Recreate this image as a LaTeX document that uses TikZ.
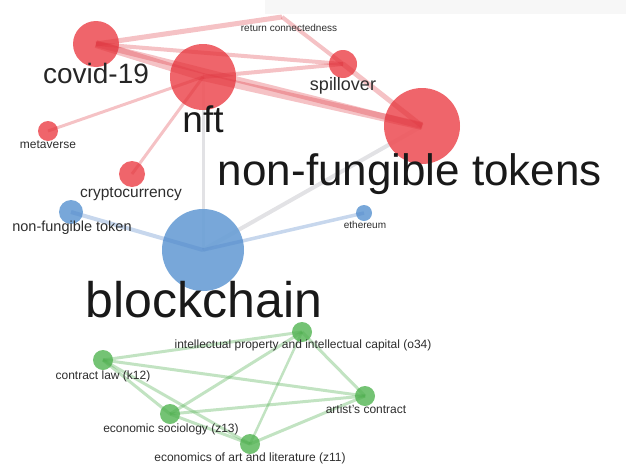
\documentclass[tikz,border=0pt]{standalone}
\usepackage{fontspec}
\setmainfont{Liberation Sans}
\definecolor{nred}{RGB}{238,88,94}
\definecolor{nblue}{RGB}{108,160,214}
\definecolor{ngreen}{RGB}{104,190,104}
\definecolor{ered}{RGB}{222,52,62}
\definecolor{eblue}{RGB}{80,132,200}
\definecolor{egreen}{RGB}{80,175,80}
\definecolor{egray}{RGB}{226,226,229}
\definecolor{txt}{RGB}{45,45,45}
\tikzset{
  dot/.style={circle,inner sep=0pt,minimum size=#1,fill opacity=0.92,draw=none},
  rdot/.style={dot=#1,fill=nred},
  bdot/.style={dot=#1,fill=nblue},
  gdot/.style={dot=#1,fill=ngreen},
  lab/.style={anchor=base,inner sep=0pt,text=txt,font=\fontsize{#1}{#1}\selectfont},
  redge/.style={draw=ered,line width=#1,opacity=0.3},
  bedge/.style={draw=eblue,line width=#1,opacity=0.32},
  gedge/.style={draw=egreen,line width=#1,opacity=0.35},
  grayedge/.style={draw=egray,line width=#1},
}
\begin{document}
\begin{tikzpicture}[x=1pt,y=-1pt]
\useasboundingbox (0,0) rectangle (626,466);
\fill[black!3] (265,0) rectangle (626,14);
% node positions
\coordinate (ret) at (282,17);
\coordinate (cov) at (96,44);
\coordinate (nft) at (203,77);
\coordinate (spl) at (343,64);
\coordinate (nfts) at (422,126);
\coordinate (met) at (48,131);
\coordinate (cry) at (132,174);
\coordinate (nftk) at (71,212);
\coordinate (blk) at (203,250);
\coordinate (eth) at (364,213);
\coordinate (ip) at (302,332);
\coordinate (cl) at (103,360);
\coordinate (ac) at (365,396);
\coordinate (es) at (170,414);
\coordinate (ea) at (250,444);
% gray edges (under circles)
\draw[grayedge=3] (nft) -- (blk);
\draw[grayedge=4] (nfts) -- (blk);
% circles
\node[rdot=46] (covc) at (cov) {};
\node[rdot=66] (nftc) at (nft) {};
\node[rdot=28] (splc) at (spl) {};
\node[rdot=76] (nftsc) at (nfts) {};
\node[rdot=20] (metc) at (met) {};
\node[rdot=26] (cryc) at (cry) {};
\node[bdot=24] (nftkc) at (nftk) {};
\node[bdot=82] (blkc) at (blk) {};
\node[bdot=16] (ethc) at (eth) {};
\node[gdot=20] (ipc) at (ip) {};
\node[gdot=20] (clc) at (cl) {};
\node[gdot=20] (acc) at (ac) {};
\node[gdot=20] (esc) at (es) {};
\node[gdot=20] (eac) at (ea) {};
% coloured edges (translucent, over circles)
\draw[bedge=4] (nftk) -- (blk);
\draw[bedge=3.5] (eth) -- (blk);
\draw[redge=5] (cov) -- (ret);
\draw[redge=4] (ret) -- (spl);
\draw[redge=4] (cov) -- (spl);
\draw[redge=6] (cov) -- (nfts);
\draw[redge=8] (cov) -- (nft);
\draw[redge=4] (nft) -- (spl);
\draw[redge=8] (nft) -- (nfts);
\draw[redge=5] (spl) -- (nfts);
\draw[redge=3] (nft) -- (met);
\draw[redge=3] (nft) -- (cry);
\draw[gedge=3] (ip) -- (cl);
\draw[gedge=3] (ip) -- (es);
\draw[gedge=2.5] (ip) -- (ea);
\draw[gedge=3] (ip) -- (ac);
\draw[gedge=3] (cl) -- (ac);
\draw[gedge=3] (cl) -- (es);
\draw[gedge=3] (cl) -- (ea);
\draw[gedge=3] (es) -- (ac);
\draw[gedge=3] (es) -- (ea);
\draw[gedge=3] (ea) -- (ac);
% labels
\node[lab=10] (retl) at (289,31) {return connectedness};
\node[lab=28,text=black!85] (covl) at (96,83) {covid-19};
\node[lab=37,text=black!90] (nftl) at (203,132) {nft};
\node[lab=18] (spll) at (343,90) {spillover};
\node[lab=44,text=black!90] (nftsl) at (410,185) {non-fungible tokens};
\node[lab=12] (metl) at (48,148) {metaverse};
\node[lab=15.5] (cryl) at (131,197) {cryptocurrency};
\node[lab=14.5] (nftkl) at (72,231) {non-fungible token};
\node[lab=50,text=black!90] (blkl) at (204,317) {blockchain};
\node[lab=10] (ethl) at (365,228) {ethereum};
\node[lab=12] (ipl) at (303,348) {intellectual property and intellectual capital (o34)};
\node[lab=12] (cll) at (103,379) {contract law (k12)};
\node[lab=12] (acl) at (366,413) {artist's contract};
\node[lab=12] (esl) at (171,432) {economic sociology (z13)};
\node[lab=12] (eal) at (250,461) {economics of art and literature (z11)};
\end{tikzpicture}
\end{document}
